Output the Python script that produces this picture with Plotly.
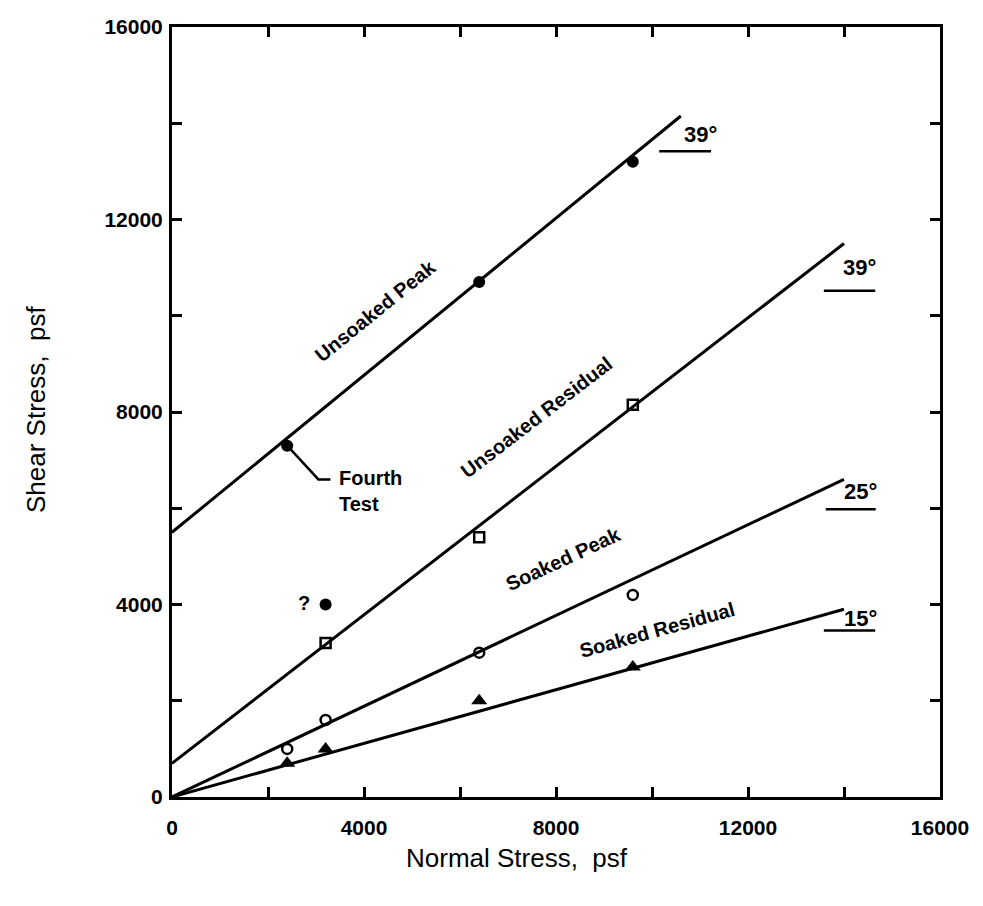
import plotly.graph_objects as go

# ---- data ----
up_x = [2400, 6400, 9600]
up_y = [7300, 10700, 13200]
up_line_x = [0, 10600]
up_line_y = [5500, 14150]

ur_x = [3200, 6400, 9600]
ur_y = [3200, 5400, 8150]
ur_line_x = [0, 14000]
ur_line_y = [700, 11500]

sp_x = [2400, 3200, 6400, 9600]
sp_y = [1000, 1600, 3000, 4200]
sp_line_x = [0, 14000]
sp_line_y = [0, 6600]

sr_x = [2400, 3200, 6400, 9600]
sr_y = [700, 1000, 2000, 2700]
sr_line_x = [0, 14000]
sr_line_y = [0, 3900]

q_x = [3200]
q_y = [4000]

leader_x = [2400, 3050, 3300]
leader_y = [7300, 6600, 6600]

angle_labels = ["39°", "39°", "25°", "15°"]
angle_x = [11000, 14330, 14340, 14340]
angle_y = [13770, 11000, 6350, 3700]
under_x0 = [10150, 13580, 13620, 13580]
under_x1 = [11230, 14650, 14660, 14650]
under_y = [13420, 10520, 5980, 3460]

tick_vals = list(range(0, 16001, 2000))
tick_text = [str(v) if v % 4000 == 0 else "" for v in tick_vals]

BLACK = "black"
LW = 3

fig = go.Figure()

def line(xs, ys):
    fig.add_trace(go.Scatter(x=xs, y=ys, mode="lines",
                             line=dict(color=BLACK, width=LW),
                             hoverinfo="skip", showlegend=False))

line(up_line_x, up_line_y)
line(ur_line_x, ur_line_y)
line(sp_line_x, sp_line_y)
line(sr_line_x, sr_line_y)
fig.add_trace(go.Scatter(x=leader_x, y=leader_y, mode="lines",
                         line=dict(color=BLACK, width=2.5),
                         hoverinfo="skip", showlegend=False))

fig.add_trace(go.Scatter(x=up_x, y=up_y, mode="markers", name="Unsoaked Peak",
                         marker=dict(symbol="circle", size=12, color=BLACK),
                         showlegend=False))
fig.add_trace(go.Scatter(x=ur_x, y=ur_y, mode="markers", name="Unsoaked Residual",
                         marker=dict(symbol="square-open", size=10, color=BLACK,
                                     line=dict(width=2.5, color=BLACK)),
                         showlegend=False))
fig.add_trace(go.Scatter(x=sp_x, y=sp_y, mode="markers", name="Soaked Peak",
                         marker=dict(symbol="circle-open", size=10, color=BLACK,
                                     line=dict(width=2.5, color=BLACK)),
                         showlegend=False))
fig.add_trace(go.Scatter(x=sr_x, y=sr_y, mode="markers", name="Soaked Residual",
                         marker=dict(symbol="triangle-up", size=14, color=BLACK),
                         showlegend=False))
fig.add_trace(go.Scatter(x=q_x, y=q_y, mode="markers", name="?",
                         marker=dict(symbol="circle", size=12, color=BLACK),
                         showlegend=False))

FONT = "Liberation Sans"
ann_font = dict(family=FONT, size=20, color=BLACK)

annotations = [
    dict(x=4230, y=10100, text="<b>Unsoaked Peak</b>", textangle=-39),
    dict(x=7600, y=7900, text="<b>Unsoaked Residual</b>", textangle=-37.5),
    dict(x=8150, y=4950, text="<b>Soaked Peak</b>", textangle=-25),
    dict(x=10100, y=3480, text="<b>Soaked Residual</b>", textangle=-15.5),
    dict(x=2760, y=4030, text="<b>?</b>", textangle=0),
]
for a in annotations:
    fig.add_annotation(x=a["x"], y=a["y"], text=a["text"], textangle=a["textangle"],
                       showarrow=False, font=ann_font, xanchor="center", yanchor="middle")

fig.add_annotation(x=3430, y=6360, text="<b>Fourth<br>Test</b>", showarrow=False,
                   font=dict(family=FONT, size=20, color=BLACK),
                   xanchor="left", yanchor="middle", align="left")

for t, ax, ay, x0, x1, uy in zip(angle_labels, angle_x, angle_y, under_x0, under_x1, under_y):
    fig.add_annotation(x=ax, y=ay, text="<b>" + t + "</b>", showarrow=False,
                       font=dict(family=FONT, size=22, color=BLACK),
                       xanchor="center", yanchor="middle")
    fig.add_shape(type="line", x0=x0, x1=x1, y0=uy, y1=uy, xref="x", yref="y",
                  line=dict(color=BLACK, width=2.5))

axis_common = dict(
    range=[0, 16000], tickvals=tick_vals, ticktext=tick_text,
    ticks="inside", ticklen=10, tickwidth=2.5, tickcolor=BLACK,
    showline=True, linecolor=BLACK, linewidth=3, mirror="ticks",
    showgrid=False, zeroline=False,
    tickfont=dict(family=FONT, size=21, color=BLACK, weight="bold"),
)

fig.update_xaxes(**axis_common, ticklabelstandoff=10)
fig.update_yaxes(**axis_common, ticklabelstandoff=2)

# axis titles
fig.add_annotation(text="Normal Stress,  psf", xref="paper", yref="paper",
                   x=0.449, y=-0.079, xanchor="center", yanchor="middle",
                   showarrow=False, font=dict(family=FONT, size=26, color=BLACK))
fig.add_annotation(text="Shear Stress,  psf", xref="paper", yref="paper",
                   x=-0.178, y=0.503, xanchor="center", yanchor="middle",
                   textangle=-90, showarrow=False,
                   font=dict(family=FONT, size=26, color=BLACK))

fig.update_layout(
    width=983, height=906,
    margin=dict(l=172, r=43, t=27, b=109),
    plot_bgcolor="white", paper_bgcolor="white",
    showlegend=False,
)

fig.write_html("out.html")
